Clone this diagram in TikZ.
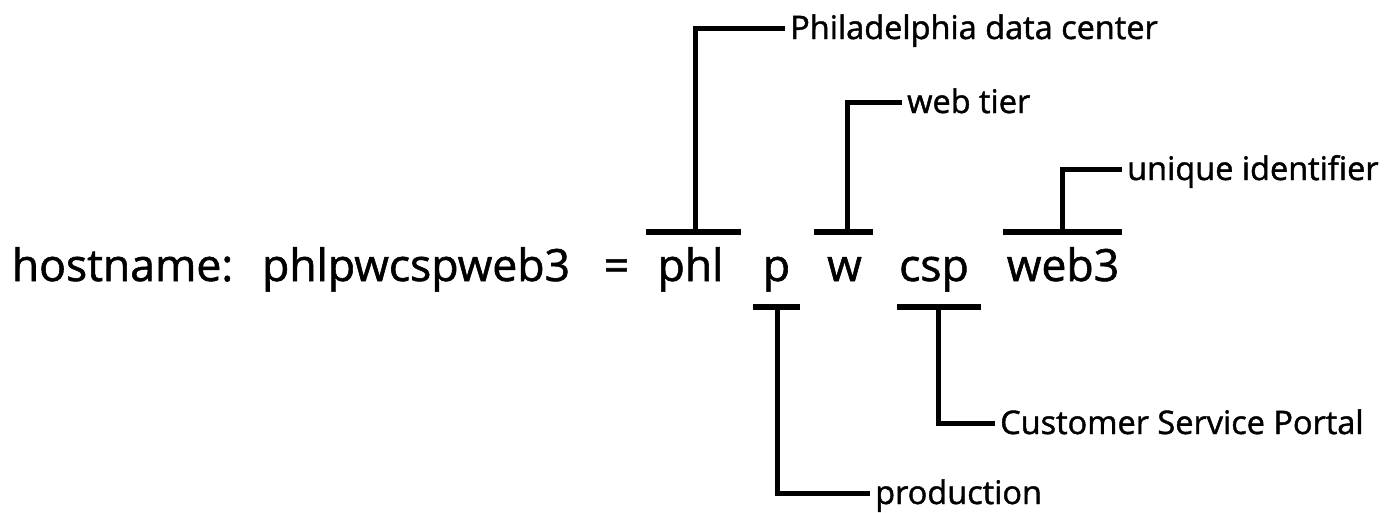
\documentclass[tikz,border=0pt]{standalone}
\usepackage{fontspec}
\setmainfont{Open Sans}[FakeBold=1.3]
\begin{document}
\begin{tikzpicture}[x=1pt,y=-1pt,
  word/.style={inner sep=0pt, anchor=base, font=\fontsize{44.5}{53}\selectfont},
  lab/.style={anchor=west, inner xsep=5pt, inner ysep=0pt, text height=22pt, text depth=0pt, font=\fontsize{32.5}{39}\selectfont},
  bar/.style={line width=5.5pt, line cap=butt},
  lead/.style={line width=5pt, line join=miter, line cap=butt}]
\useasboundingbox (0,0) rectangle (1390,512);
% main line
\node[word] (host) at (122.5,281) {hostname:};
\node[word] (full) at (416,281) {phlpwcspweb3};
\node[word] (eq) at (616.5,281) {=};
\node[word] (phl) at (690.5,281) {phl};
\node[word] (p) at (776.5,281) {p};
\node[word] (w) at (844.5,281) {w};
\node[word] (csp) at (934,281) {csp};
\node[word] (web) at (1063,281) {web3};
% bars
\coordinate (phlL) at (646,232); \coordinate (phlR) at (741,232); \coordinate (phlM) at (695,232);
\coordinate (wL) at (814,232); \coordinate (wR) at (873,232); \coordinate (wM) at (847,232);
\coordinate (webL) at (1003,232); \coordinate (webR) at (1122,232); \coordinate (webM) at (1062,232);
\coordinate (pL) at (753,307); \coordinate (pR) at (800,307); \coordinate (pM) at (777,307);
\coordinate (cL) at (897,307); \coordinate (cR) at (981,307); \coordinate (cM) at (938,307);
\draw[bar] (phlL) -- (phlR);
\draw[bar] (wL) -- (wR);
\draw[bar] (webL) -- (webR);
\draw[bar] (pL) -- (pR);
\draw[bar] (cL) -- (cR);
% labels
\node[lab] (l1) at (785,28) {Philadelphia data center};
\node[lab] (l2) at (902,102) {web tier};
\node[lab] (l3) at (1122,169) {unique identifier};
\node[lab] (l4) at (995,423) {Customer Service Portal};
\node[lab] (l5) at (870,493) {production};
% leaders
\draw[lead] (phlM) |- (l1.west);
\draw[lead] (wM) |- (l2.west);
\draw[lead] (webM) |- (l3.west);
\draw[lead] (cM) |- (l4.west);
\draw[lead] (pM) |- (l5.west);
\end{tikzpicture}
\end{document}
